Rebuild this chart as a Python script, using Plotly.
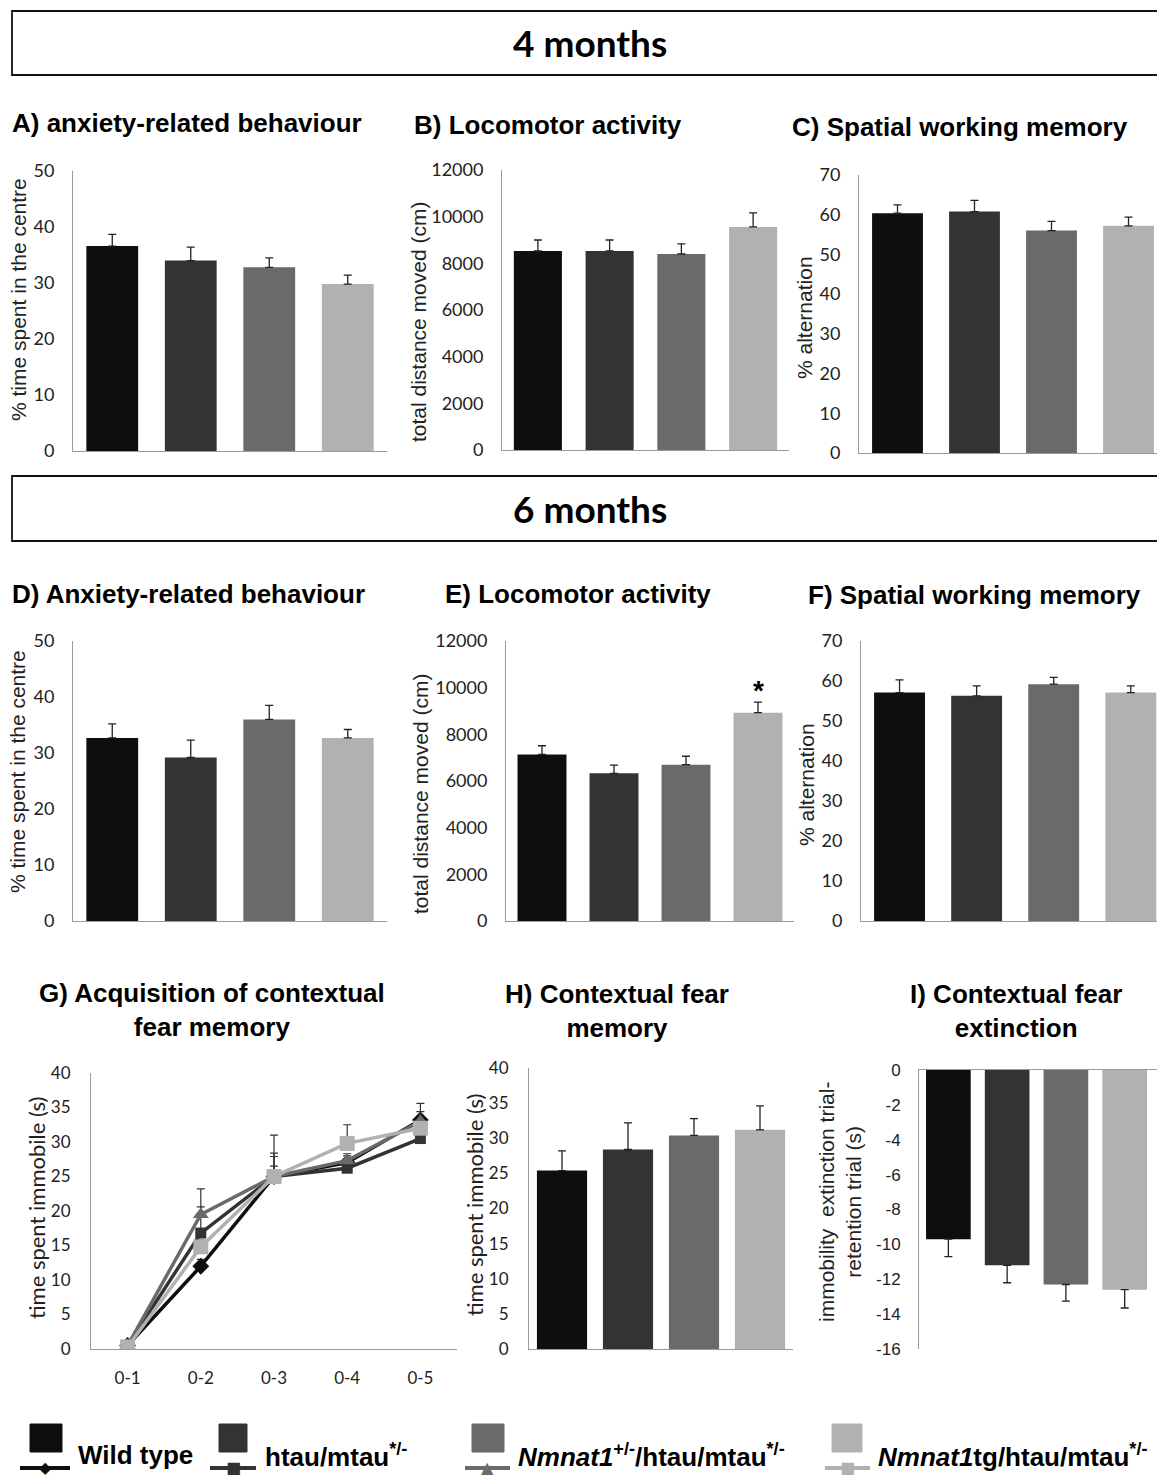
import plotly.graph_objects as go

W, H = 1157, 1476

# ---------------- data ----------------
groups = ["Wild type", "htau/mtau*/-", "Nmnat1+/-/htau/mtau*/-", "Nmnat1tg/htau/mtau*/-"]
colors = ["#0e0e0e", "#333333", "#6a6a6a", "#b1b1b1"]

# 4 months
a_vals = [36.6, 34.0, 32.8, 29.8]
a_err = [2.1, 2.4, 1.7, 1.6]
b_vals = [8530, 8530, 8400, 9560]
b_err = [470, 470, 430, 600]
c_vals = [60.4, 60.8, 56.0, 57.2]
c_err = [2.1, 2.8, 2.3, 2.2]
# 6 months
d_vals = [32.7, 29.2, 36.0, 32.7]
d_err = [2.5, 3.1, 2.5, 1.5]
e_vals = [7140, 6330, 6700, 8930]
e_err = [370, 350, 360, 450]
f_vals = [57.1, 56.3, 59.2, 57.1]
f_err = [3.2, 2.5, 1.7, 1.7]
# G acquisition
sessions = ["0-1", "0-2", "0-3", "0-4", "0-5"]
g_wt = [0.5, 12.0, 25.0, 27.0, 33.2]
g_htau = [0.5, 16.8, 25.0, 26.2, 30.5]
g_het = [0.5, 19.5, 25.0, 27.3, 33.0]
g_tg = [0.3, 14.8, 25.0, 29.8, 32.0]
g_wt_err = [0.6, 1.0, 2.9, 1.0, 2.4]
g_htau_err = [0.6, 3.8, 3.4, 1.0, 1.0]
g_het_err = [0.6, 3.7, 1.5, 1.0, 1.4]
g_tg_err = [0.6, 1.0, 6.0, 2.7, 1.0]
# H, I
h_vals = [25.4, 28.4, 30.4, 31.2]
h_err = [2.8, 3.8, 2.4, 3.4]
i_vals = [-9.7, -11.2, -12.3, -12.6]
i_err = [1.0, 1.0, 0.95, 1.05]
i_ticks = [0, -2, -4, -6, -8, -10, -12, -14, -16]

ARIAL = "Liberation Sans, Arial, sans-serif"
CALI = "Lato, Carlito, Calibri, sans-serif"

fig = go.Figure()
layout = {}


def px_x(x):
    return x / W


def px_y(y):
    return 1 - y / H


def axis_names(i):
    return ("x" if i == 1 else f"x{i}", "y" if i == 1 else f"y{i}",
            "xaxis" if i == 1 else f"xaxis{i}", "yaxis" if i == 1 else f"yaxis{i}")


def setup_axes(i, x0, x1, ytop, ybot, yrange, dtick, xrange, tickfont, xtop=False,
               xticks=None, xticktext=None, xtickfont=None, yticks=None, standoff=14):
    xn, yn, xa, ya = axis_names(i)
    layout[xa] = dict(domain=[px_x(x0), px_x(x1)], range=xrange, anchor=yn,
                      showgrid=False, zeroline=False, showline=True, automargin=False,
                      linecolor="#9a9a9a", linewidth=1, ticks="",
                      side="top" if xtop else "bottom",
                      showticklabels=xticks is not None, fixedrange=True)
    if xticks is not None:
        layout[xa].update(tickmode="array", tickvals=xticks, ticktext=xticktext,
                          tickfont=xtickfont, ticklabelstandoff=14)
    layout[ya] = dict(domain=[px_y(ybot), px_y(ytop)], range=yrange, anchor=xn,
                      dtick=dtick, tick0=0, showgrid=False, zeroline=False,
                      showline=True, linecolor="#9a9a9a", linewidth=1, ticks="",
                      tickformat="d", automargin=False,
                      tickfont=tickfont, ticklabelstandoff=standoff, fixedrange=True)
    if yticks is not None:
        layout[ya].update(tickmode="array", tickvals=yticks,
                          ticktext=[str(t) for t in yticks])
    return xn, yn


def bar_panel(i, vals, errs, x0, x1, ytop, ybot, yrange, dtick, xrange, width,
              tickfont, neg=False, yticks=None, standoff=14):
    xn, yn = setup_axes(i, x0, x1, ytop, ybot, yrange, dtick, xrange, tickfont, xtop=neg,
                        yticks=yticks, standoff=standoff)
    if neg:
        ey = dict(type="data", symmetric=False, array=[0] * len(errs), arrayminus=errs,
                  color="#222", thickness=1.3, width=4)
    else:
        ey = dict(type="data", symmetric=False, array=errs, arrayminus=[0] * len(errs),
                  color="#222", thickness=1.3, width=4)
    fig.add_trace(go.Bar(x=list(range(len(vals))), y=vals, width=width,
                         marker=dict(color=colors, line=dict(width=0)),
                         error_y=ey, xaxis=xn, yaxis=yn, showlegend=False))
    return xn, yn


tf_small = dict(family=CALI, size=18, color="#222")

bar_panel(1, a_vals, a_err, 73, 387, 171, 451, [0, 50], 10, [-0.5, 3.5], 0.66, tf_small)
bar_panel(2, b_vals, b_err, 502, 789, 170, 450, [0, 12000], 2000, [-0.5, 3.5], 0.67, tf_small)
bar_panel(3, c_vals, c_err, 859, 1157, 175, 453, [0, 70], 10, [-0.5, 3.37], 0.66, tf_small)
bar_panel(4, d_vals, d_err, 73, 387, 641, 921, [0, 50], 10, [-0.5, 3.5], 0.66, tf_small)
xE, yE = bar_panel(5, e_vals, e_err, 506, 794, 641, 921, [0, 12000], 2000, [-0.5, 3.5], 0.68, tf_small)
bar_panel(6, f_vals, f_err, 861, 1157, 641, 921, [0, 70], 10, [-0.5, 3.34], 0.66, tf_small)

# G line chart
tf_g = dict(family=CALI, size=17, color="#222")
xg, yg = setup_axes(7, 91, 457, 1073, 1349, [0, 40], 5, [-0.5, 4.5], tf_g,
                    xticks=list(range(len(sessions))), xticktext=sessions,
                    xtickfont=dict(family=CALI, size=17, color="#222"), standoff=16)
g_series = [(g_wt, g_wt_err, "diamond", 13), (g_htau, g_htau_err, "square", 11),
            (g_het, g_het_err, "triangle-up", 14), (g_tg, g_tg_err, "square", 15)]
for k, (vals, errs, sym, sz) in enumerate(g_series):
    fig.add_trace(go.Scatter(x=list(range(len(sessions))), y=vals, mode="lines+markers",
                             line=dict(color=colors[k], width=3.5),
                             marker=dict(symbol=sym, size=sz, color=colors[k]),
                             error_y=dict(type="data", symmetric=False, array=errs,
                                          arrayminus=[0] * len(errs), color="#333",
                                          thickness=1.2, width=4),
                             xaxis=xg, yaxis=yg, showlegend=False))

tf_h = dict(family=CALI, size=17, color="#222")
bar_panel(8, h_vals, h_err, 529, 793, 1068, 1349, [0, 40], 5, [-0.5, 3.5], 0.76, tf_h, standoff=16)
tf_i = dict(family=ARIAL, size=17, color="#222")
bar_panel(9, i_vals, i_err, 919, 1157, 1070, 1349, [-16, 0], 2, [-0.5, 3.55], 0.76, tf_i,
          neg=True, yticks=i_ticks)

annotations = []
shapes = []


def text(x, y, s, size, family=ARIAL, xanchor="left", angle=0, color="#000"):
    annotations.append(dict(x=px_x(x), y=px_y(y), xref="paper", yref="paper", text=s,
                            showarrow=False, xanchor=xanchor, yanchor="middle",
                            textangle=angle, font=dict(family=family, size=size, color=color)))


# header boxes
for (y0, y1, label) in [(11, 75, "4 months"), (476, 541, "6 months")]:
    shapes.append(dict(type="rect", xref="paper", yref="paper", x0=px_x(12), x1=1.05,
                       y0=px_y(y1), y1=px_y(y0), line=dict(color="#111", width=1.8)))
    text(590, (y0 + y1) / 2, "<b>" + label + "</b>", 37, family=CALI, xanchor="center")

# panel titles
TS = 26
text(10, 123, "<b>A) anxiety-related behaviour</b>", TS)
text(412, 125, "<b>B) Locomotor activity</b>", TS)
text(790, 127, "<b>C) Spatial working memory</b>", TS)
text(10, 594, "<b>D) Anxiety-related behaviour</b>", TS)
text(443, 594, "<b>E) Locomotor activity</b>", TS)
text(806, 595, "<b>F) Spatial working memory</b>", TS)
text(212, 1010, "<b>G) Acquisition of contextual<br>fear memory</b>", TS, xanchor="center")
text(617, 1011, "<b>H) Contextual fear<br>memory</b>", TS, xanchor="center")
text(1016, 1011, "<b>I) Contextual fear<br>extinction</b>", TS, xanchor="center")

# y-axis titles
YS = 21
text(18, 300, "% time spent in the centre", YS, angle=-90, xanchor="center", color="#222")
text(418, 322, "total distance moved (cm)", YS, angle=-90, xanchor="center", color="#222")
text(804, 318, "% alternation", YS, angle=-90, xanchor="center", color="#222")
text(18, 772, "% time spent in the centre", YS, angle=-90, xanchor="center", color="#222")
text(420, 794, "total distance moved (cm)", YS, angle=-90, xanchor="center", color="#222")
text(806, 785, "% alternation", YS, angle=-90, xanchor="center", color="#222")
text(36, 1208, "time spent immobile (s)", 22, family=CALI, angle=-90, xanchor="center", color="#222")
text(474, 1205, "time spent immobile (s)", 22, family=CALI, angle=-90, xanchor="center", color="#222")
text(840, 1202, "immobility  extinction trial-<br>retention trial (s)", 21, angle=-90,
     xanchor="center", color="#222")

# significance asterisk on E (Nmnat1tg bar)
annotations.append(dict(x=3, y=e_vals[3] + e_err[3], xref=xE, yref=yE, text="<b>*</b>",
                        showarrow=False, yanchor="bottom", yshift=-6,
                        font=dict(family=ARIAL, size=28, color="#000")))

# legend
legend_items = [
    (30, 62, 20, 70, "◆", 76, "<b>Wild type</b>"),
    (219, 247, 210, 256, "■", 263, "<b>htau/mtau<sup>*/-</sup></b>"),
    (472, 504, 465, 510, "▲", 516, "<b><i>Nmnat1</i><sup>+/-</sup>/htau/mtau<sup>*/-</sup></b>"),
    (832, 862, 825, 870, "■", 876, "<b><i>Nmnat1</i>tg/htau/mtau<sup>*/-</sup></b>"),
]
for k, (rx0, rx1, lx0, lx1, glyph, tx, label) in enumerate(legend_items):
    shapes.append(dict(type="rect", xref="paper", yref="paper", x0=px_x(rx0), x1=px_x(rx1),
                       y0=px_y(1452), y1=px_y(1424), fillcolor=colors[k],
                       line=dict(color=colors[k], width=1)))
    shapes.append(dict(type="line", xref="paper", yref="paper", x0=px_x(lx0), x1=px_x(lx1),
                       y0=px_y(1468), y1=px_y(1468), line=dict(color=colors[k], width=4)))
    text((lx0 + lx1) / 2, 1467, glyph, 16, family="DejaVu Sans", xanchor="center", color=colors[k])
    text(tx, 1455, label, 26, color="#000")

layout.update(dict(width=W, height=H, autosize=False,
                   margin=dict(l=0, r=0, t=0, b=0, pad=0),
                   paper_bgcolor="white", plot_bgcolor="white",
                   annotations=annotations, shapes=shapes, showlegend=False))
fig.update_layout(**layout)

fig.write_html("out.html", config={"displayModeBar": False},
               post_script="document.body.style.margin='0';")
